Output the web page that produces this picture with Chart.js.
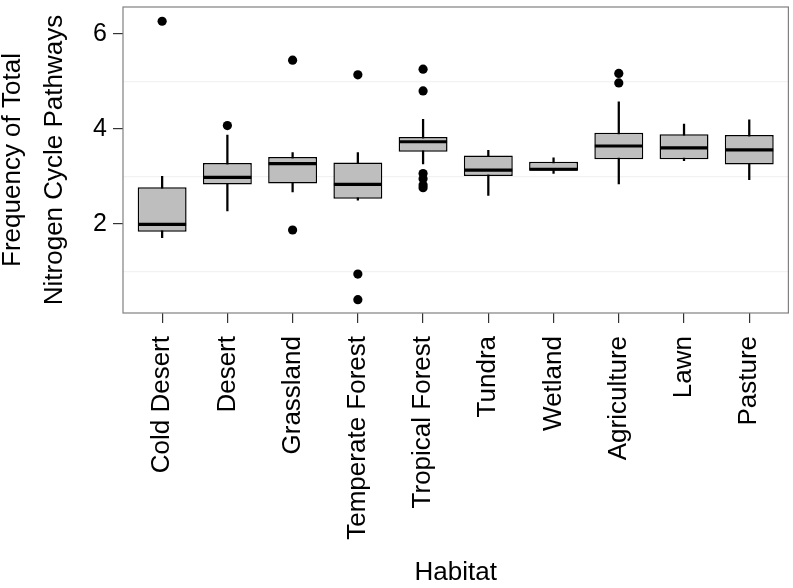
<!DOCTYPE html>
<html>
<head>
<meta charset="utf-8">
<script src="https://cdn.jsdelivr.net/npm/chart.js@4.4.1/dist/chart.umd.min.js"></script>
<style>
  html, body { margin: 0; padding: 0; background: #fff; }
  #wrap { width: 793px; height: 588px; position: relative; }
</style>
</head>
<body>
<div id="wrap"><canvas id="boxChart"></canvas></div>
<script>
// habitats on the x axis
var categories = ['Cold Desert', 'Desert', 'Grassland', 'Temperate Forest', 'Tropical Forest',
                  'Tundra', 'Wetland', 'Agriculture', 'Lawn', 'Pasture'];

// box statistics
var whiskerLow  = [1.71, 2.27, 2.67, 2.50, 3.26, 2.60, 3.06, 2.84, 3.33, 2.93];
var q1          = [1.83, 2.83, 2.85, 2.53, 3.52, 3.01, 3.12, 3.36, 3.36, 3.25];
var median      = [1.99, 2.98, 3.27, 2.83, 3.73, 3.13, 3.15, 3.64, 3.60, 3.56];
var q3          = [2.77, 3.28, 3.41, 3.29, 3.83, 3.44, 3.31, 3.92, 3.89, 3.87];
var whiskerHigh = [3.00, 3.87, 3.50, 3.50, 4.20, 3.55, 3.39, 4.57, 4.10, 4.19];

var outliers = [
    [6.27],
    [4.07],
    [5.45, 1.87],
    [5.14, 0.94, 0.40],
    [5.26, 4.80, 3.06, 2.95, 2.82, 2.76],
    [],
    [],
    [5.17, 4.97],
    [],
    []
];

var yTickLabels = [2, 4, 6];

var whiskerData = categories.map(function (c, i) { return { x: i, y: [whiskerLow[i], whiskerHigh[i]] }; });
var boxData = categories.map(function (c, i) { return { x: i, y: [q1[i], q3[i]] }; });
var outlierData = [];
outliers.forEach(function (list, i) {
    list.forEach(function (v) { outlierData.push({ x: i, y: v }); });
});

var FONT = "'Liberation Sans', Arial, Helvetica, sans-serif";

// thick median line across each box
var medianPlugin = {
    id: 'medians',
    afterDatasetsDraw: function (chart) {
        var ctx = chart.ctx;
        var meta = chart.getDatasetMeta(1);
        var yScale = chart.scales.y;
        ctx.save();
        ctx.strokeStyle = '#000';
        ctx.lineWidth = 3.2;
        meta.data.forEach(function (bar, i) {
            var py = yScale.getPixelForValue(median[i]);
            ctx.beginPath();
            ctx.moveTo(bar.x - bar.width / 2 + 0.5, py);
            ctx.lineTo(bar.x + bar.width / 2 - 0.5, py);
            ctx.stroke();
        });
        ctx.restore();
    }
};

// grey panel border
var panelBorder = {
    id: 'panelBorder',
    afterDraw: function (chart) {
        var a = chart.chartArea;
        var ctx = chart.ctx;
        ctx.save();
        ctx.strokeStyle = '#808080';
        ctx.lineWidth = 1.2;
        ctx.strokeRect(a.left, a.top, a.right - a.left, a.bottom - a.top);
        ctx.restore();
    }
};

new Chart(document.getElementById('boxChart').getContext('2d'), {
    type: 'bar',
    data: {
        datasets: [{
            label: 'whiskers',
            data: whiskerData,
            backgroundColor: '#000',
            borderWidth: 0,
            barThickness: 1.6,
            grouped: false,
            order: 3
        }, {
            label: 'boxes',
            data: boxData,
            backgroundColor: '#bebebe',
            borderColor: '#000',
            borderWidth: 1.5,
            borderSkipped: false,
            barPercentage: 0.75,
            categoryPercentage: 1,
            grouped: false,
            order: 2
        }, {
            type: 'scatter',
            label: 'outliers',
            data: outlierData,
            backgroundColor: '#000',
            borderColor: '#000',
            pointRadius: 4.6,
            borderWidth: 0,
            order: 1
        }]
    },
    options: {
        responsive: true,
        maintainAspectRatio: false,
        animation: false,
        layout: { padding: { top: 7, right: 1, left: 0, bottom: 0 } },
        plugins: { legend: { display: false }, tooltip: { enabled: false } },
        scales: {
            x: {
                type: 'linear',
                offset: false,
                min: -0.6,
                max: 9.6,
                afterFit: function (s) { s.height = 275; s.paddingLeft = 0; s.paddingRight = 0; },
                border: { display: false },
                grid: { offset: false, drawOnChartArea: false, drawTicks: true, tickLength: 10, tickColor: '#333', lineWidth: 1.2 },
                ticks: {
                    stepSize: 1,
                    includeBounds: false,
                    autoSkip: false,
                    minRotation: 90,
                    maxRotation: 90,
                    padding: 13,
                    color: '#000',
                    font: { family: FONT, size: 26 },
                    callback: function (v) { return categories[v] !== undefined ? categories[v] : ''; }
                },
                title: {
                    display: true,
                    text: 'Habitat',
                    color: '#000',
                    padding: { top: 0, bottom: 0 },
                    font: { family: FONT, size: 26 }
                }
            },
            y: {
                min: 0.12,
                max: 6.57,
                afterFit: function (s) { s.width = 123; s.paddingTop = 0; s.paddingBottom = 0; },
                border: { display: false },
                grid: {
                    tickLength: 10,
                    lineWidth: 1.2,
                    color: function (c) { return c.tick && c.tick.value % 2 === 1 ? '#f2f2f2' : 'rgba(0,0,0,0)'; },
                    tickColor: function (c) { return c.tick && yTickLabels.indexOf(c.tick.value) >= 0 ? '#333' : 'rgba(0,0,0,0)'; }
                },
                ticks: {
                    stepSize: 1,
                    includeBounds: false,
                    padding: 6,
                    color: '#000',
                    font: { family: FONT, size: 25 },
                    callback: function (v) { return yTickLabels.indexOf(v) >= 0 ? String(v) : ''; }
                },
                title: {
                    display: true,
                    text: ['Frequency of Total', 'Nitrogen Cycle Pathways'],
                    color: '#000',
                    padding: { top: -8, bottom: 0 },
                    font: { family: FONT, size: 26, lineHeight: 1.62 }
                }
            }
        }
    },
    plugins: [medianPlugin, panelBorder]
});
</script>
</body>
</html>
